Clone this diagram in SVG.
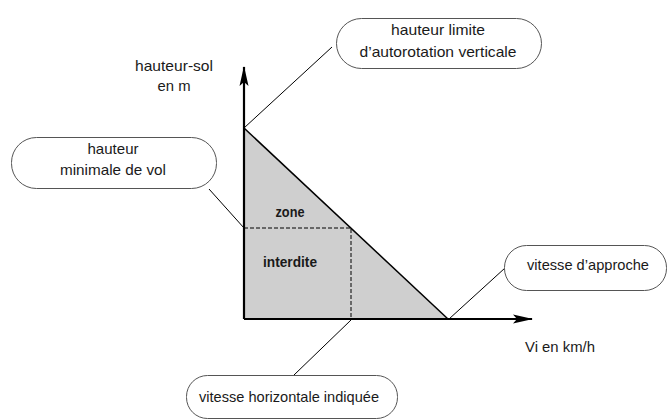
<svg xmlns="http://www.w3.org/2000/svg" width="667" height="419" viewBox="0 0 667 419">
<style>
.t{font-family:"Liberation Sans",Arial,sans-serif;font-size:15px;fill:#1a1a1a;text-anchor:middle}
.b{font-weight:bold;font-size:14.5px}
.box{fill:#fff;stroke:#555;stroke-width:1}
.ld{stroke:#000;stroke-width:1;fill:none}
.ax{stroke:#000;stroke-width:2.2;fill:none}
.dash{stroke:#000;stroke-width:1;stroke-dasharray:4,2;fill:none}
</style>
<defs>
<marker id="arr" viewBox="0 0 20 10" refX="19" refY="5" markerWidth="20" markerHeight="10" markerUnits="userSpaceOnUse" orient="auto">
<path d="M0,0.5 L20,5 L0,9.5 L4,5 Z" fill="#000"/>
</marker>
</defs>
<rect width="667" height="419" fill="#fff"/>
<g id="zone">
<polygon points="244,128 448,319 244,319" fill="#cfcfcf"/>
<line x1="244" y1="128" x2="448" y2="319" stroke="#000" stroke-width="1.5"/>
<polyline class="dash" points="244,228 351,228 351,319"/>
<text class="t b" x="290" y="217" textLength="29" lengthAdjust="spacingAndGlyphs">zone</text>
<text class="t b" x="290" y="267" textLength="54" lengthAdjust="spacingAndGlyphs">interdite</text>
</g>
<g id="axes">
<line class="ax" x1="244" y1="319" x2="244" y2="67" marker-end="url(#arr)"/>
<line class="ax" x1="244" y1="319" x2="532" y2="319" marker-end="url(#arr)"/>
<text class="t" x="174" y="71" textLength="78" lengthAdjust="spacingAndGlyphs">hauteur-sol</text>
<text class="t" x="174" y="91" textLength="33" lengthAdjust="spacingAndGlyphs">en m</text>
<text class="t" x="560" y="352" textLength="70" lengthAdjust="spacingAndGlyphs">Vi en km/h</text>
</g>
<g id="connectors">
<line class="ld" x1="244" y1="128" x2="332" y2="47"/>
<line class="ld" x1="209" y1="189" x2="244" y2="228"/>
<line class="ld" x1="449" y1="319" x2="505" y2="268"/>
<line class="ld" x1="351" y1="320" x2="294" y2="375"/>
</g>
<g id="node-limite">
<rect class="box" x="336.5" y="18.5" width="205" height="50" rx="25"/>
<text class="t" x="438" y="35" textLength="94" lengthAdjust="spacingAndGlyphs">hauteur limite</text>
<text class="t" x="438" y="57" textLength="157" lengthAdjust="spacingAndGlyphs">d’autorotation verticale</text>
</g>
<g id="node-minimale">
<rect class="box" x="11.5" y="137.5" width="205" height="51" rx="25"/>
<text class="t" x="113" y="154" textLength="51" lengthAdjust="spacingAndGlyphs">hauteur</text>
<text class="t" x="113" y="175" textLength="106" lengthAdjust="spacingAndGlyphs">minimale de vol</text>
</g>
<g id="node-approche">
<rect class="box" x="504.5" y="245.5" width="162" height="45" rx="22"/>
<text class="t" x="588" y="270" textLength="122" lengthAdjust="spacingAndGlyphs">vitesse d’approche</text>
</g>
<g id="node-horizontale">
<rect class="box" x="186.5" y="375.5" width="211" height="43" rx="21"/>
<text class="t" x="289" y="402" textLength="180" lengthAdjust="spacingAndGlyphs">vitesse horizontale indiquée</text>
</g>
</svg>
